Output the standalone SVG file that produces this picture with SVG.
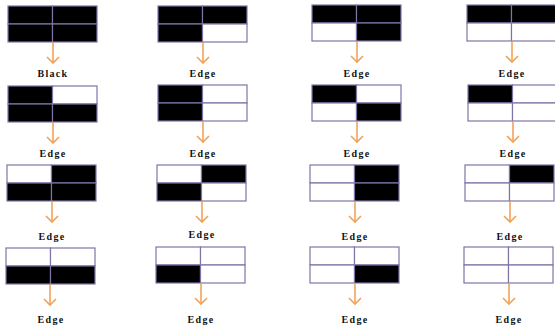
<svg xmlns="http://www.w3.org/2000/svg" width="555" height="331" viewBox="0 0 555 331">
  <style>
    .bg { fill: #ffffff; }
    .cell { stroke: #7f74a6; stroke-width: 1.2; }
    .on { fill: #000000; }
    .off { fill: #ffffff; }
    .shaft { stroke: #f0a35a; stroke-width: 1.6; fill: none; }
    .lbl { font-family: "Liberation Serif", "DejaVu Serif", serif; font-weight: bold; font-size: 10px; letter-spacing: 1.3px; fill: #111111; text-anchor: middle; }
  </style>
  <defs>
    <!-- one 2x2 block cell, 44.5 x 18 -->
    <rect id="c" class="cell" width="44.5" height="18"/>
    <!-- downward arrow, 21 long, drawn at the origin -->
    <g id="arr">
      <line class="shaft" x1="0" y1="0" x2="0" y2="21"/>
      <polyline class="shaft" points="-6,15 0,21 6,15"/>
    </g>
  </defs>
  <rect class="bg" width="555" height="331"/>

  <!-- row 1 -->
  <g id="b1" transform="translate(8,6)">
    <use href="#c" class="on" x="0" y="0"/><use href="#c" class="on" x="44.5" y="0"/>
    <use href="#c" class="on" x="0" y="18"/><use href="#c" class="on" x="44.5" y="18"/>
    <text class="lbl" x="45" y="71">Black</text>
  </g>
  <g id="b2" transform="translate(158,6)">
    <use href="#c" class="on" x="0" y="0"/><use href="#c" class="on" x="44.5" y="0"/>
    <use href="#c" class="on" x="0" y="18"/><use href="#c" class="off" x="44.5" y="18"/>
    <text class="lbl" x="45" y="71">Edge</text>
  </g>
  <g id="b3" transform="translate(312,5)">
    <use href="#c" class="on" x="0" y="0"/><use href="#c" class="on" x="44.5" y="0"/>
    <use href="#c" class="off" x="0" y="18"/><use href="#c" class="on" x="44.5" y="18"/>
    <text class="lbl" x="45" y="72">Edge</text>
  </g>
  <g id="b4" transform="translate(467,5)">
    <use href="#c" class="on" x="0" y="0"/><use href="#c" class="on" x="44.5" y="0"/>
    <use href="#c" class="off" x="0" y="18"/><use href="#c" class="off" x="44.5" y="18"/>
    <text class="lbl" x="45" y="72">Edge</text>
  </g>

  <!-- row 2 -->
  <g id="b5" transform="translate(8,86)">
    <use href="#c" class="on" x="0" y="0"/><use href="#c" class="off" x="44.5" y="0"/>
    <use href="#c" class="on" x="0" y="18"/><use href="#c" class="on" x="44.5" y="18"/>
    <text class="lbl" x="45" y="71">Edge</text>
  </g>
  <g id="b6" transform="translate(158,85)">
    <use href="#c" class="on" x="0" y="0"/><use href="#c" class="off" x="44.5" y="0"/>
    <use href="#c" class="on" x="0" y="18"/><use href="#c" class="off" x="44.5" y="18"/>
    <text class="lbl" x="45" y="72">Edge</text>
  </g>
  <g id="b7" transform="translate(312,85)">
    <use href="#c" class="on" x="0" y="0"/><use href="#c" class="off" x="44.5" y="0"/>
    <use href="#c" class="off" x="0" y="18"/><use href="#c" class="on" x="44.5" y="18"/>
    <text class="lbl" x="45" y="72">Edge</text>
  </g>
  <g id="b8" transform="translate(468,85)">
    <use href="#c" class="on" x="0" y="0"/><use href="#c" class="off" x="44.5" y="0"/>
    <use href="#c" class="off" x="0" y="18"/><use href="#c" class="off" x="44.5" y="18"/>
    <text class="lbl" x="45" y="72">Edge</text>
  </g>

  <!-- row 3 -->
  <g id="b9" transform="translate(7,165)">
    <use href="#c" class="off" x="0" y="0"/><use href="#c" class="on" x="44.5" y="0"/>
    <use href="#c" class="on" x="0" y="18"/><use href="#c" class="on" x="44.5" y="18"/>
    <text class="lbl" x="45" y="75">Edge</text>
  </g>
  <g id="b10" transform="translate(157,165)">
    <use href="#c" class="off" x="0" y="0"/><use href="#c" class="on" x="44.5" y="0"/>
    <use href="#c" class="on" x="0" y="18"/><use href="#c" class="off" x="44.5" y="18"/>
    <text class="lbl" x="45" y="73">Edge</text>
  </g>
  <g id="b11" transform="translate(310,165)">
    <use href="#c" class="off" x="0" y="0"/><use href="#c" class="on" x="44.5" y="0"/>
    <use href="#c" class="off" x="0" y="18"/><use href="#c" class="on" x="44.5" y="18"/>
    <text class="lbl" x="45" y="75">Edge</text>
  </g>
  <g id="b12" transform="translate(465,165)">
    <use href="#c" class="off" x="0" y="0"/><use href="#c" class="on" x="44.5" y="0"/>
    <use href="#c" class="off" x="0" y="18"/><use href="#c" class="off" x="44.5" y="18"/>
    <text class="lbl" x="45" y="75">Edge</text>
  </g>

  <!-- row 4 -->
  <g id="b13" transform="translate(6,248)">
    <use href="#c" class="off" x="0" y="0"/><use href="#c" class="off" x="44.5" y="0"/>
    <use href="#c" class="on" x="0" y="18"/><use href="#c" class="on" x="44.5" y="18"/>
    <text class="lbl" x="45" y="75">Edge</text>
  </g>
  <g id="b14" transform="translate(156,247)">
    <use href="#c" class="off" x="0" y="0"/><use href="#c" class="off" x="44.5" y="0"/>
    <use href="#c" class="on" x="0" y="18"/><use href="#c" class="off" x="44.5" y="18"/>
    <text class="lbl" x="45" y="76">Edge</text>
  </g>
  <g id="b15" transform="translate(310,247)">
    <use href="#c" class="off" x="0" y="0"/><use href="#c" class="off" x="44.5" y="0"/>
    <use href="#c" class="off" x="0" y="18"/><use href="#c" class="on" x="44.5" y="18"/>
    <text class="lbl" x="45" y="76">Edge</text>
  </g>
  <g id="b16" transform="translate(464,247)">
    <use href="#c" class="off" x="0" y="0"/><use href="#c" class="off" x="44.5" y="0"/>
    <use href="#c" class="off" x="0" y="18"/><use href="#c" class="off" x="44.5" y="18"/>
    <text class="lbl" x="45" y="76">Edge</text>
  </g>

  <!-- arrows from each block down to its label -->
  <g id="connectors">
    <use href="#arr" x="53" y="42"/>
    <use href="#arr" x="203" y="42"/>
    <use href="#arr" x="357" y="41"/>
    <use href="#arr" x="512" y="41"/>
    <use href="#arr" x="53" y="122"/>
    <use href="#arr" x="203" y="121"/>
    <use href="#arr" x="357" y="121"/>
    <use href="#arr" x="513" y="121"/>
    <use href="#arr" x="52" y="201"/>
    <use href="#arr" x="202" y="201"/>
    <use href="#arr" x="355" y="201"/>
    <use href="#arr" x="510" y="201"/>
    <use href="#arr" x="50" y="284"/>
    <use href="#arr" x="201" y="283"/>
    <use href="#arr" x="355" y="283"/>
    <use href="#arr" x="509" y="283"/>
  </g>
</svg>
